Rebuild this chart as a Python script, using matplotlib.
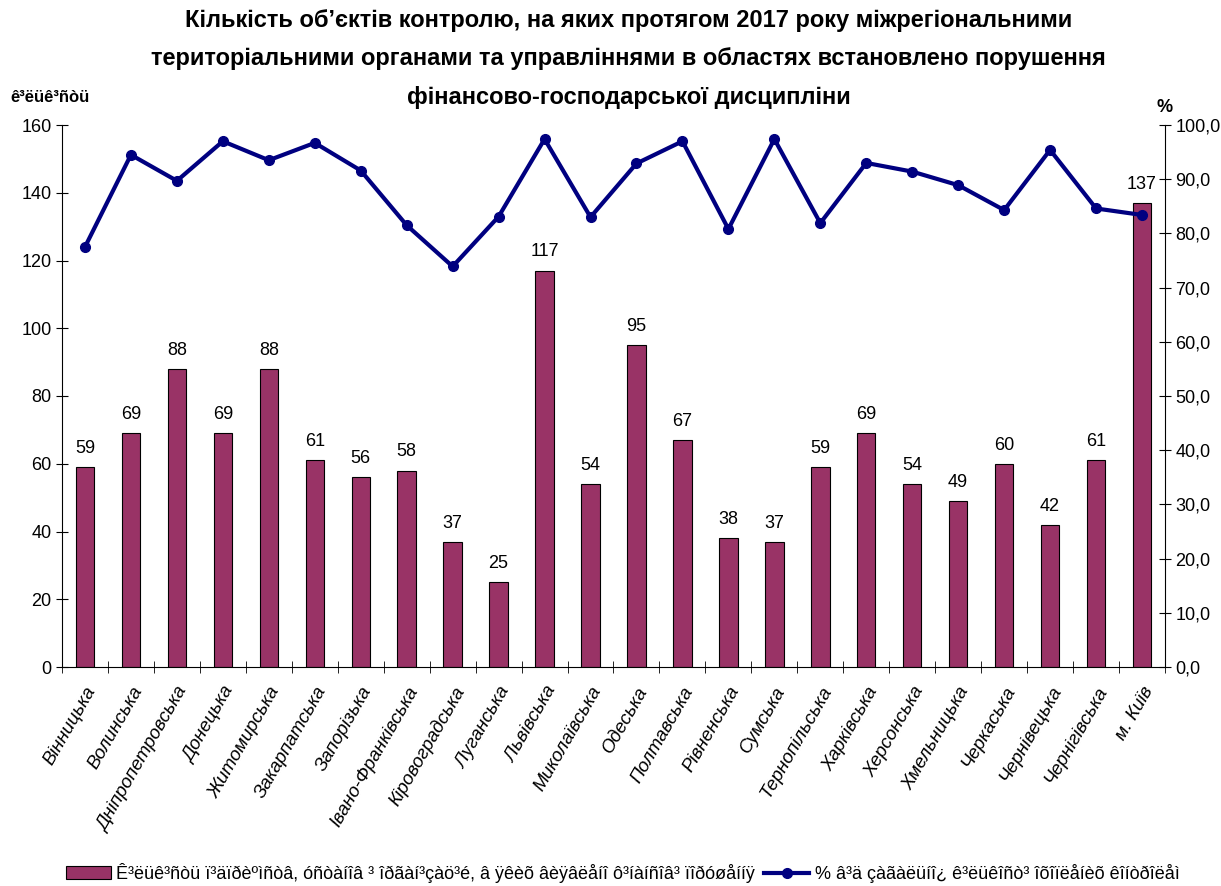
import matplotlib
matplotlib.use("Agg")
import matplotlib.pyplot as plt
import numpy as np

plt.rcParams['font.family'] = ['Liberation Sans', 'DejaVu Sans']

regions = ['Вінницька', 'Волинська', 'Дніпропетровська', 'Донецька', 'Житомирська',
           'Закарпатська', 'Запорізька', 'Івано-Франківська', 'Кіровоградська', 'Луганська',
           'Львівська', 'Миколаївська', 'Одеська', 'Полтавська', 'Рівненська', 'Сумська',
           'Тернопільська', 'Харківська', 'Херсонська', 'Хмельницька', 'Черкаська',
           'Чернівецька', 'Чернігівська', 'м. Київ']
counts = [59, 69, 88, 69, 88, 61, 56, 58, 37, 25, 117, 54, 95, 67, 38, 37,
          59, 69, 54, 49, 60, 42, 61, 137]
percent = [77.5, 94.5, 89.7, 97.0, 93.5, 96.7, 91.6, 81.5, 73.9, 83.1, 97.4, 83.0,
           92.9, 97.0, 80.8, 97.4, 81.9, 93.0, 91.4, 88.9, 84.3, 95.4, 84.6, 83.4]

title = ("Кількість об’єктів контролю, на яких протягом 2017 року міжрегіональними\n"
         "територіальними органами та управліннями в областях встановлено порушення\n"
         "фінансово-господарської дисципліни")
left_label = "ê³ëüê³ñòü"
bar_legend = ("Ê³ëüê³ñòü ï³äïðèºìñòâ, óñòàíîâ ³ îðãàí³çàö³é, â ÿêèõ âèÿâëåíî "
              "ô³íàíñîâ³ ïîðóøåííÿ")
line_legend = "% â³ä çàãàëüíî¿ ê³ëüêîñò³ îõîïëåíèõ êîíòðîëåì"

fig = plt.figure(figsize=(12.21, 8.86), dpi=100)
ax = fig.add_axes([62/1221, 1 - 667/886, (1165 - 62)/1221, (667 - 125)/886])
ax2 = ax.twinx()

x = np.arange(len(regions))
bars = ax.bar(x, counts, 0.4, color='#993366', edgecolor='black', linewidth=0.8,
              label=bar_legend, zorder=2)
for xi, v in zip(x, counts):
    ax.text(xi, v + 3, str(v), ha='center', va='bottom', fontsize=13)

ax.set_xlim(-0.5, len(regions) - 0.5)
ax.set_ylim(0, 160)
ax.set_yticks(np.arange(0, 161, 20))
ax.tick_params(axis='y', direction='inout', length=8, labelsize=13)
ax.set_xticks(x)
ax.set_xticklabels(regions, rotation=60, ha='right', rotation_mode='anchor',
                   fontsize=13.5, style='italic')
ax.tick_params(axis='x', length=0, pad=12)
ax.set_xticks(np.arange(-0.5, len(regions), 1), minor=True)
ax.tick_params(axis='x', which='minor', direction='inout', length=8)

line, = ax2.plot(x, percent, color='#000080', linewidth=3, marker='o', markersize=7,
                 label=line_legend, zorder=3)
ax2.set_ylim(0, 100)
ax2.set_yticks(np.arange(0, 101, 10))
ax2.set_yticklabels([f"{v:.1f}".replace('.', ',') for v in np.arange(0, 101, 10)],
                    fontsize=13)
ax2.tick_params(axis='y', direction='inout', length=8)

for a in (ax, ax2):
    a.spines['top'].set_visible(False)
ax.spines['right'].set_visible(False)
ax2.spines['left'].set_visible(False)
ax2.spines['bottom'].set_visible(False)

fig.text(0.515, 1 - 9/886, title, ha='center', va='top', fontsize=17, fontweight='bold',
         linespacing=1.85)
fig.text(10/1221, 1 - 97/886, left_label, ha='left', va='center', fontsize=12,
         fontweight='bold')
fig.text(1165/1221, 1 - 107/886, "%", ha='center', va='center', fontsize=13,
         fontweight='bold')

fig.legend(handles=[bars, line], loc='center', bbox_to_anchor=(0.51, 1 - 873/886),
           ncol=2, frameon=False, fontsize=13, handlelength=2.5, columnspacing=0.5,
           handletextpad=0.3)

fig.savefig("out.png", dpi=100)
